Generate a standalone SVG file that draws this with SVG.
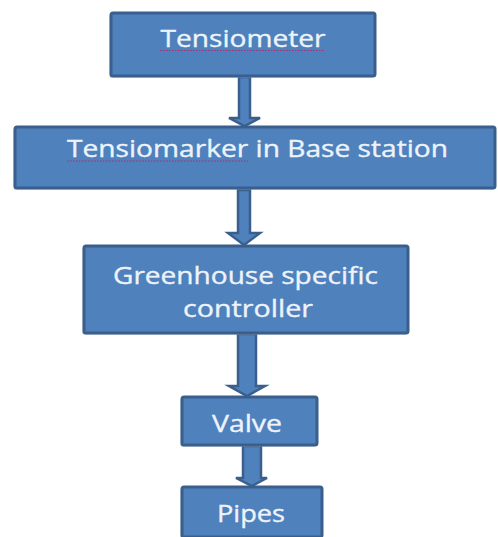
<svg xmlns="http://www.w3.org/2000/svg" width="498" height="537" viewBox="0 0 498 537">
  <defs>
    <style>
      .box { fill: #4f81bd; stroke: #3a5f8d; stroke-width: 3; }
      .shadow { fill: #b9bec6; opacity: 0.45; }
      .arrow { fill: #4f81bd; stroke: #3a5f8d; stroke-width: 2.5; stroke-linejoin: miter; }
      .label { font-family: "Open Sans", "Liberation Sans", sans-serif; font-size: 23px; fill: #eef3f9; stroke: #eef3f9; stroke-width: 0.35; text-anchor: middle; }
      .squiggle { fill: none; stroke: #a8306a; stroke-width: 1.2; stroke-dasharray: 1.5 1.5; }
    </style>
  </defs>
  <rect width="498" height="537" fill="#ffffff"/>

  <g id="connectors">
    <path class="arrow" d="M239,77 L250,77 L250,118 L260,118 L244.5,126 L229,118 L239,118 Z"/>
    <path class="arrow" d="M238,190 L250,190 L250,233 L260,233 L244,245 L228,233 L238,233 Z"/>
    <path class="arrow" d="M238,334 L256,334 L256,386 L265,386 L247,396 L229,386 L238,386 Z"/>
    <path class="arrow" d="M243,446 L261,446 L261,478 L267,478 L252,486 L236,478 L243,478 Z"/>
  </g>

  <g id="node-tensiometer">
    <rect class="shadow" x="109" y="15" width="264" height="63" rx="2"/>
    <rect class="box" x="111" y="13" width="264" height="63" rx="2"/>
    <text class="label" x="243" y="47" textLength="165" lengthAdjust="spacingAndGlyphs">Tensiometer</text>
    <line class="squiggle" x1="160" y1="50.5" x2="325" y2="50.5"/>
  </g>

  <g id="node-tensiomarker">
    <rect class="shadow" x="13" y="129" width="481" height="61" rx="2"/>
    <rect class="box" x="15" y="127" width="480" height="61" rx="2"/>
    <text class="label" x="257.5" y="157" textLength="381" lengthAdjust="spacingAndGlyphs">Tensiomarker in Base station</text>
    <line class="squiggle" x1="67" y1="161" x2="248" y2="161"/>
  </g>

  <g id="node-controller">
    <rect class="shadow" x="82" y="248" width="325" height="87" rx="2"/>
    <rect class="box" x="84" y="246" width="324" height="87" rx="2"/>
    <text class="label" x="245.5" y="284" textLength="265" lengthAdjust="spacingAndGlyphs">Greenhouse specific</text>
    <text class="label" x="248" y="317" textLength="130" lengthAdjust="spacingAndGlyphs">controller</text>
  </g>

  <g id="node-valve">
    <rect class="shadow" x="180" y="399" width="136" height="48" rx="2"/>
    <rect class="box" x="182" y="397" width="135" height="48" rx="2"/>
    <text class="label" x="247" y="432" textLength="70" lengthAdjust="spacingAndGlyphs">Valve</text>
  </g>

  <g id="node-pipes">
    <rect class="shadow" x="180" y="489" width="141" height="50" rx="2"/>
    <rect class="box" x="182" y="487" width="140" height="50" rx="2"/>
    <text class="label" x="251" y="522" textLength="68" lengthAdjust="spacingAndGlyphs">Pipes</text>
  </g>
</svg>
